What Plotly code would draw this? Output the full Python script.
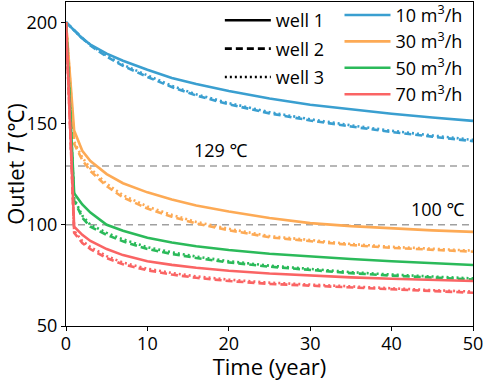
import plotly.graph_objects as go

# Time (year)
t = [0, 1, 2, 3, 5, 7, 10, 13, 16, 20, 25, 30, 35, 40, 45, 50]

# Outlet temperature (°C); keys: flow rate, then well
T_10_w1 = [200, 196, 192, 189, 184.5, 181, 176.5, 172.5, 169.5, 166, 162.3, 159.3, 156.9, 154.8, 153, 151.3]
T_10_w2 = [200, 196, 192, 188.5, 183, 178.5, 173, 168, 163.8, 159.5, 155, 151.5, 148.5, 145.8, 143.5, 141.3]
T_10_w3 = [200, 196, 192, 188.8, 183.5, 179, 173.6, 168.6, 164.4, 160.1, 155.6, 152.1, 149.1, 146.4, 144.1, 141.9]

T_30_w1 = [200, 146.5, 136.5, 131.5, 125, 120.5, 116, 112.5, 109.5, 106.5, 103.3, 100.8, 99.3, 98.1, 97.2, 96.5]
T_30_w2 = [200, 140, 132, 126.5, 119, 113.5, 108, 104, 100.6, 97.3, 93.8, 91.8, 90, 88.6, 87.5, 86.7]
T_30_w3 = [200, 141, 133.3, 127.8, 120.2, 114.6, 109, 104.9, 101.4, 98, 94.4, 92.3, 90.5, 89.1, 88, 87.2]

T_50_w1 = [200, 115.5, 110, 106, 100, 97, 93.6, 91.2, 89.4, 87.5, 85.7, 84.3, 83.1, 82, 81, 80.1]
T_50_w2 = [200, 112, 103.5, 99, 95, 91.8, 88, 85.6, 83.6, 81.4, 79.3, 77.6, 76.1, 74.9, 73.9, 73]
T_50_w3 = [200, 113, 104.5, 100, 96, 92.8, 88.9, 86.4, 84.3, 82, 79.8, 78.1, 76.6, 75.4, 74.3, 73.5]

T_70_w1 = [200, 99, 95, 92, 88, 85, 82, 80.2, 78.8, 77.3, 75.9, 74.8, 74, 73.3, 72.7, 72.2]
T_70_w2 = [200, 96, 91, 88, 83.5, 80.5, 77.5, 75.4, 73.8, 72.2, 70.8, 69.9, 69, 68, 67.1, 66.4]
T_70_w3 = [200, 97, 92, 89, 84.5, 81.3, 78.3, 76.2, 74.5, 72.9, 71.4, 70.4, 69.5, 68.6, 67.7, 67]

rate_labels = ["10 m<sup>3</sup>/h", "30 m<sup>3</sup>/h", "50 m<sup>3</sup>/h", "70 m<sup>3</sup>/h"]
well_labels = ["well 1", "well 2", "well 3"]
ref_levels = [129, 100]
ref_labels = ["129 ℃", "100 ℃"]

colors = ["#3A9FD0", "#FDAA55", "#2BBA5A", "#FA6464"]
dashes = ["solid", "7px,4px", "2px,3px"]

series = [
    [T_10_w1, T_10_w2, T_10_w3],
    [T_30_w1, T_30_w2, T_30_w3],
    [T_50_w1, T_50_w2, T_50_w3],
    [T_70_w1, T_70_w2, T_70_w3],
]

FONT = "Open Sans, Noto Sans, DejaVu Sans, sans-serif"
FS = 18

fig = go.Figure()

# reference lines
for lvl in ref_levels:
    fig.add_trace(go.Scatter(x=[t[0], t[-1]], y=[lvl, lvl], mode="lines",
                             line=dict(color="#A0A0A0", width=1.6, dash="7px,5px"),
                             showlegend=False, hoverinfo="skip"))

for ci, group in enumerate(series):
    for w in [2, 1, 0]:
        fig.add_trace(go.Scatter(x=t, y=group[w], mode="lines",
                                 line=dict(color=colors[ci], width=2.6, dash=dashes[w]),
                                 showlegend=False))

# legend entries: wells (line style)
for wi, lab in enumerate(well_labels):
    fig.add_trace(go.Scatter(x=[None], y=[None], mode="lines", name=lab,
                             line=dict(color="black", width=2.6, dash=dashes[wi]),
                             legend="legend", legendgroup="w%d" % wi))
# legend entries: flow rates (colour)
for ci, lab in enumerate(rate_labels):
    fig.add_trace(go.Scatter(x=[None], y=[None], mode="lines", name=lab,
                             line=dict(color=colors[ci], width=2.6),
                             legend="legend2", legendgroup="r%d" % ci))

fig.add_annotation(x=19.1, y=137, xref="x", yref="y", text=ref_labels[0], showarrow=False,
                   font=dict(size=FS, color="black", family=FONT))
fig.add_annotation(x=49.3, y=107.8, xref="x", yref="y", text=ref_labels[1], showarrow=False,
                   xanchor="right", font=dict(size=FS, color="black", family=FONT))

fig.update_layout(
    width=484, height=381,
    margin=dict(l=66, r=11, t=2, b=55, autoexpand=False),
    paper_bgcolor="white", plot_bgcolor="white",
    font=dict(family=FONT, size=FS, color="black"),
    legend=dict(x=0.378, y=1.0, xanchor="left", yanchor="top", bgcolor="rgba(0,0,0,0)",
                font=dict(size=FS), tracegroupgap=2, itemwidth=46),
    legend2=dict(x=0.672, y=1.016, xanchor="left", yanchor="top", bgcolor="rgba(0,0,0,0)",
                 font=dict(size=FS), tracegroupgap=0, itemwidth=46),
)
fig.update_xaxes(range=[0, 50], tickvals=[0, 10, 20, 30, 40, 50], showgrid=False, zeroline=False,
                 showline=True, linecolor="black", linewidth=1, mirror=True,
                 ticks="outside", ticklen=4, tickcolor="black", automargin=False,
                 ticklabelstandoff=-3,
                 title=dict(text="Time (year)", standoff=6), tickfont=dict(size=FS))
fig.update_yaxes(range=[50, 210], tickvals=[50, 100, 150, 200], showgrid=False, zeroline=False,
                 showline=True, linecolor="black", linewidth=1, mirror=True,
                 ticks="outside", ticklen=4, tickcolor="black", automargin=False,
                 title=dict(text="Outlet <i>T</i> (℃)", standoff=4), tickfont=dict(size=FS))

fig.write_html("out.html", config={"displayModeBar": False},
               post_script="document.body.style.margin='0';")
